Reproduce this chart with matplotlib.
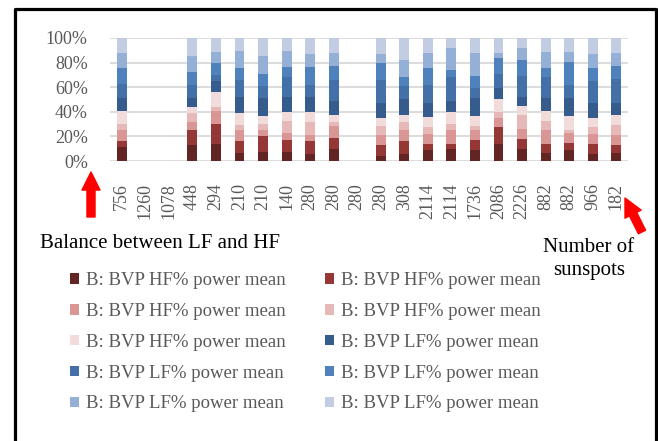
import numpy as np
import matplotlib
matplotlib.use("Agg")
import matplotlib.pyplot as plt
from matplotlib.lines import Line2D
from matplotlib.patches import FancyArrowPatch
from matplotlib.ticker import PercentFormatter

plt.rcParams['font.family'] = ['Liberation Serif', 'DejaVu Serif']

# number of sunspots (x categories)
sunspots = ['756', '1260', '1078', '448', '294', '210', '210', '140', '280', '280', '280',
            '280', '308', '2114', '2114', '1736', '2086', '2226', '882', '882', '966', '182']

# B: BVP HF% power mean (5 series) and LF% power mean (5 series)
hf1 = [11.4, 0, 0, 13.0, 13.9, 6.5, 7.3, 7.3, 5.7, 9.8, 0, 4.1, 5.7, 9.0, 9.8, 9.0, 13.9, 9.8, 6.5, 9.0, 5.7, 6.5]
hf2 = [4.9, 0, 0, 12.3, 16.3, 9.8, 13.1, 9.8, 10.6, 9.0, 0, 8.9, 10.6, 4.9, 4.1, 8.1, 13.8, 8.1, 7.4, 5.7, 8.2, 6.5]
hf3 = [9.0, 0, 0, 6.5, 10.6, 9.0, 4.9, 5.7, 4.9, 9.7, 0, 8.2, 9.0, 8.1, 11.4, 8.2, 7.4, 8.2, 11.4, 8.1, 8.1, 8.2]
hf4 = [4.9, 0, 0, 7.3, 3.2, 4.0, 4.9, 9.8, 10.6, 3.3, 0, 7.3, 6.5, 5.7, 4.9, 3.2, 4.8, 11.4, 7.3, 2.5, 5.7, 8.1]
hf5 = [10.6, 0, 0, 4.9, 12.3, 9.8, 6.5, 7.3, 8.1, 5.7, 0, 6.6, 5.7, 8.2, 9.7, 8.2, 10.6, 7.3, 8.2, 11.4, 7.4, 8.2]
lf1 = [10.6, 0, 0, 7.4, 8.9, 13.1, 14.7, 12.3, 12.3, 11.4, 0, 12.2, 13.0, 11.4, 9.0, 14.7, 9.0, 7.4, 10.6, 14.7, 12.2, 9.8]
lf2 = [11.4, 0, 0, 10.6, 4.9, 13.8, 9.7, 16.3, 9.8, 17.1, 0, 18.7, 10.6, 14.7, 19.6, 8.1, 11.4, 17.1, 17.1, 10.6, 17.9, 19.5]
lf3 = [13.0, 0, 0, 10.6, 9.8, 9.8, 9.8, 8.1, 14.6, 11.4, 0, 13.9, 7.4, 13.8, 5.7, 9.8, 13.1, 13.0, 7.3, 18.7, 10.6, 10.6]
lf4 = [12.2, 0, 0, 13.0, 9.0, 13.9, 14.7, 13.1, 10.6, 10.6, 0, 7.3, 13.8, 12.2, 17.9, 18.7, 4.0, 9.8, 13.1, 8.2, 11.4, 10.6]
lf5 = [12.0, 0, 0, 14.4, 11.1, 10.3, 14.4, 10.3, 12.8, 12.0, 0, 12.8, 17.7, 12.0, 7.9, 12.0, 12.0, 7.9, 11.1, 11.1, 12.8, 12.0]

series = [hf1, hf2, hf3, hf4, hf5, lf1, lf2, lf3, lf4, lf5]
labels = ['B: BVP HF% power mean'] * 5 + ['B: BVP LF% power mean'] * 5
colors = ['#632523', '#953735', '#D99694', '#E6B9B8', '#F2DCDB',
          '#365C8D', '#4470A8', '#4F81BD', '#95B0D6', '#C2CDE3']

W, H = 658, 441


def fx(x):
    return x / W


def fy(y):
    return 1 - y / H


fig = plt.figure(figsize=(W / 100, H / 100), dpi=100)
ax = fig.add_axes([fx(110), fy(161), (628 - 110) / W, (161 - 38) / H])

data = np.array(series, dtype=float)
totals = data.sum(axis=0)
totals[totals == 0] = 1
pct = data / totals * 100

x = np.arange(len(sunspots))
bottom = np.zeros(len(sunspots))
handles = []
for vals, lab, col in zip(pct, labels, colors):
    b = ax.bar(x, vals, 0.42, bottom=bottom, color=col, label=lab, zorder=3)
    handles.append(b)
    bottom += vals

ax.set_xlim(-0.5, len(sunspots) - 0.5)
ax.set_ylim(0, 100)
ax.set_yticks(np.arange(0, 101, 20))
ax.yaxis.set_major_formatter(PercentFormatter(100, decimals=0))
ax.set_xticks(x)
ax.set_xticklabels(sunspots, rotation=90)
ax.tick_params(axis='y', length=0, pad=16, labelsize=13, labelcolor='#595959')
ax.tick_params(axis='x', length=0, pad=16, labelsize=13, labelcolor='#595959')
ax.grid(axis='y', color='#D9D9D9', lw=1.3, zorder=0)
ax.set_axisbelow(True)
for s in ax.spines.values():
    s.set_visible(False)

# two legend columns, row-wise order like the original
col1 = [handles[i] for i in (0, 2, 4, 6, 8)]
col2 = [handles[i] for i in (1, 3, 5, 7, 9)]
leg_kw = dict(loc='upper left', frameon=False, fontsize=13.5, labelcolor='#595959',
              handlelength=0.5, handleheight=0.5, handletextpad=0.35,
              labelspacing=0.74, borderpad=0, borderaxespad=0)
leg1 = fig.legend(col1, [h.get_label() for h in col1],
                  bbox_to_anchor=(fx(70), fy(272)), **leg_kw)
leg2 = fig.legend(col2, [h.get_label() for h in col2],
                  bbox_to_anchor=(fx(325), fy(272)), **leg_kw)

fig.text(fx(40), fy(244), 'Balance between LF and HF', fontsize=15, va='center', ha='left')
fig.text(fx(589), fy(248), 'Number of', fontsize=15, va='center', ha='center')
fig.text(fx(589), fy(271), 'sunspots', fontsize=15, va='center', ha='center')

# red arrows
arrow_style = 'simple,head_length=13,head_width=13,tail_width=5.8'
fig.add_artist(FancyArrowPatch((fx(91), fy(217)), (fx(91), fy(172)), transform=fig.transFigure,
                               arrowstyle=arrow_style, color='#FF0000', shrinkA=0, shrinkB=0))
fig.add_artist(FancyArrowPatch((fx(642), fy(232)), (fx(625), fy(198)), transform=fig.transFigure,
                               arrowstyle=arrow_style, color='#FF0000', shrinkA=0, shrinkB=0))

# black frame (open at the bottom)
fig.add_artist(Line2D([fx(15), fx(15), fx(656), fx(656)], [fy(445), fy(9), fy(9), fy(445)],
                      transform=fig.transFigure, color='black', lw=2.3))

fig.savefig('out.png', dpi=100)
